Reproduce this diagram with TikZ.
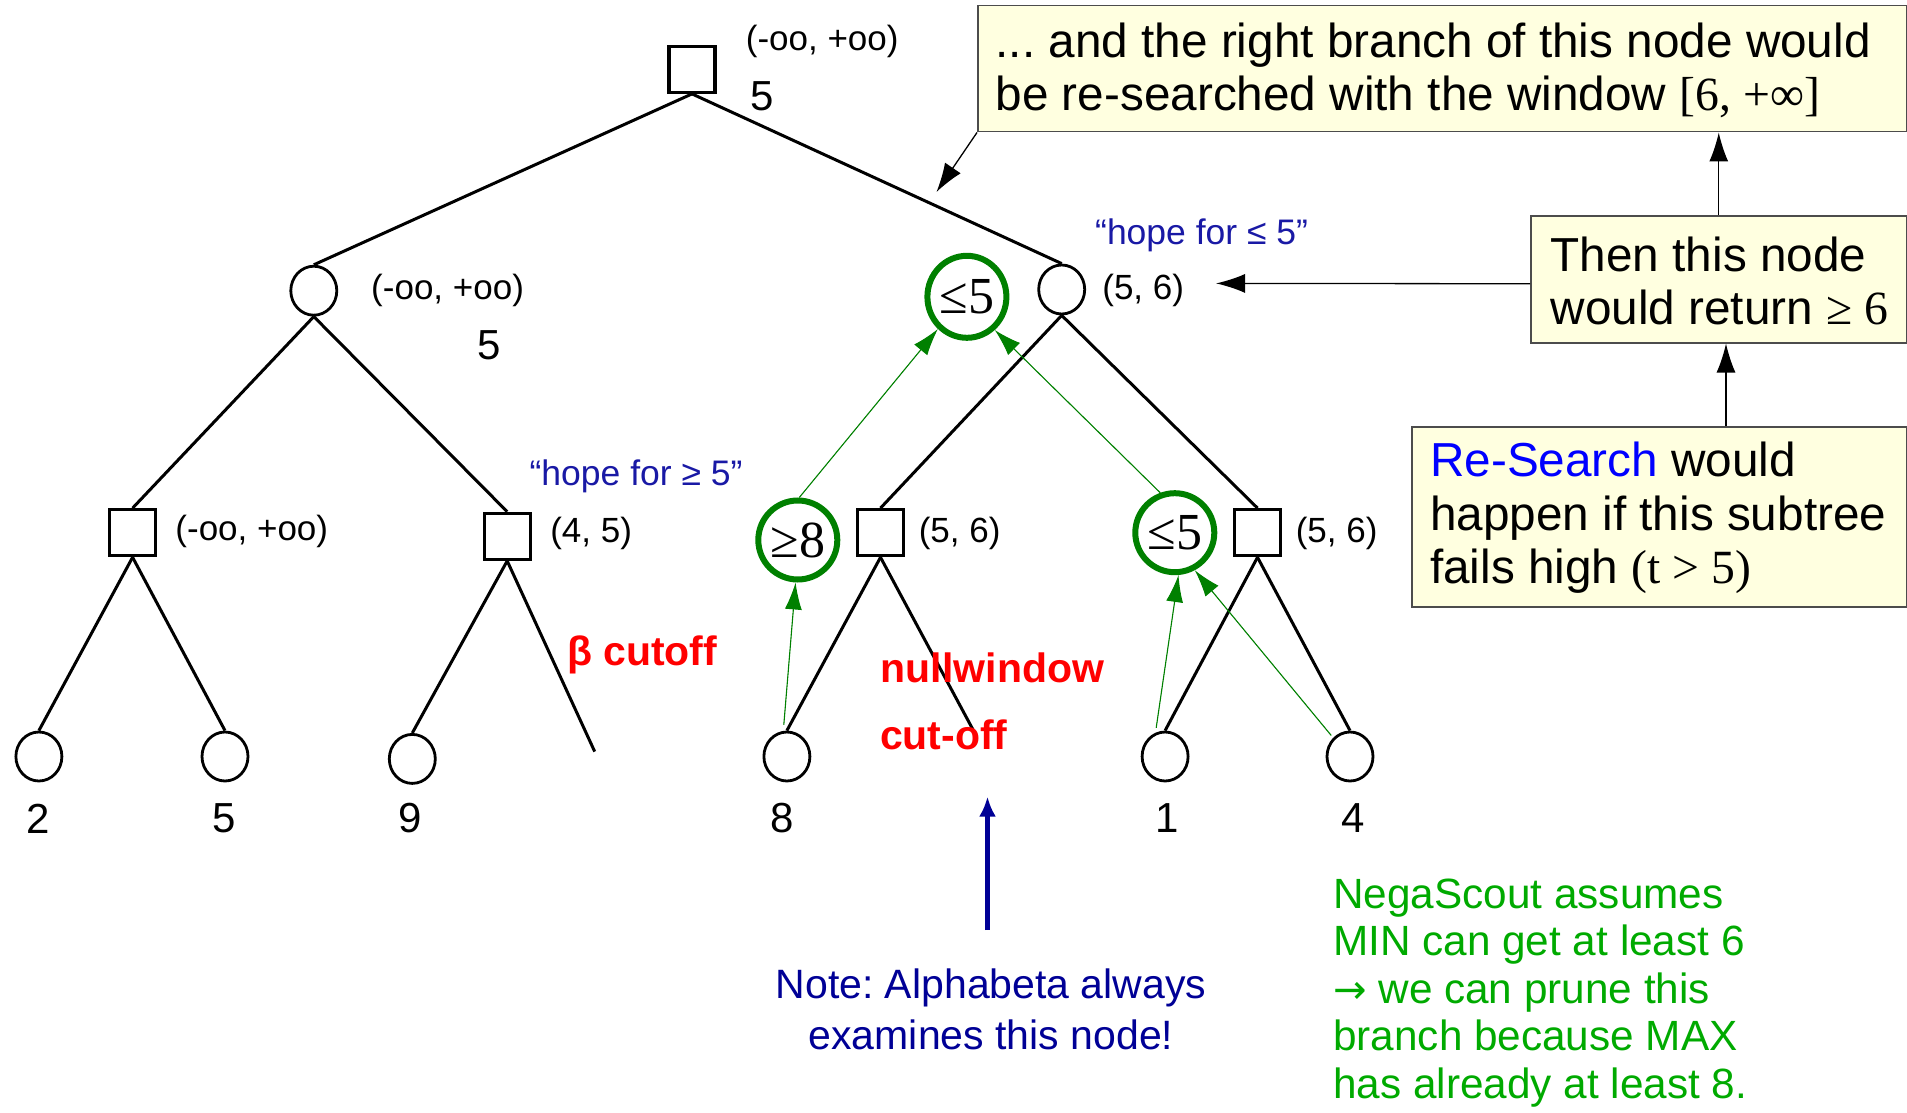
\documentclass[tikz,border=0pt]{standalone}
\usepackage{fontspec}
\setmainfont{Liberation Sans}
\newfontfamily\serifx{Liberation Serif}
\newfontfamily\djv{DejaVu Sans}
\usetikzlibrary{arrows.meta,shapes.geometric}
\definecolor{boxfill}{RGB}{255,255,224}
\definecolor{gcirc}{RGB}{0,128,0}
\definecolor{gtext}{RGB}{0,170,0}
\definecolor{navyx}{RGB}{0,0,150}
\definecolor{hopeblue}{RGB}{25,25,165}
\definecolor{redx}{RGB}{255,0,0}
\definecolor{rsblue}{RGB}{0,0,255}
\frenchspacing
\begin{document}
\begin{tikzpicture}[x=1pt,y=-1pt,
  maxn/.style={draw, rectangle, line width=3.2pt, minimum size=46pt, inner sep=0pt},
  minn/.style={draw, ellipse, line width=2.8pt, minimum width=46pt, minimum height=49pt, inner sep=0pt},
  gn/.style={draw=gcirc, ellipse, line width=6pt, minimum width=79pt, minimum height=79pt, inner sep=0pt, font=\serifx\fontsize{52}{52}\selectfont},
  lbl/.style={font=\fontsize{35}{40}\selectfont, inner sep=0pt},
  val/.style={font=\fontsize{42}{48}\selectfont, inner sep=0pt},
  hope/.style={font=\fontsize{35.5}{40}\selectfont, text=hopeblue, inner sep=0pt},
  redlbl/.style={font=\bfseries\fontsize{41}{46}\selectfont, text=redx, inner sep=0pt},
  edgel/.style={line width=3pt},
  garrow/.style={draw=gcirc, line width=1.1pt, -{Latex[length=27pt,width=17pt]}, fill=gcirc},
  barrow/.style={line width=1.3pt, -{Latex[length=29pt,width=19pt]}},
  bluearrow/.style={draw=navyx, line width=4.5pt, -{Latex[length=20pt,width=17pt]}},
  boxst/.style={draw=black!70, line width=1.5pt, fill=boxfill, anchor=north west, inner sep=0pt},
  boxtxt/.style={anchor=west, align=left, inner sep=0pt, font=\fontsize{47.7}{53.5}\selectfont},
  gtxt/.style={anchor=west, align=left, inner sep=0pt, text=gtext, font=\fontsize{42.3}{47.4}\selectfont},
  notetxt/.style={align=center, inner sep=0pt, text=navyx, font=\fontsize{41}{51}\selectfont}
]
\useasboundingbox (0,0) rectangle (1907,1113);

% tree nodes
\node[maxn] (root) at (692,69.3) {};
\node[minn] (L) at (313.8,290.7) {};
\node[minn] (R) at (1061.7,289.5) {};
\node[maxn] (s0) at (132.6,532.7) {};
\node[maxn] (s1) at (507.2,536.3) {};
\node[maxn] (s2) at (880.5,532.7) {};
\node[maxn] (s3) at (1257.5,532.7) {};
\node[minn] (l2) at (38.9,756.5) {};
\node[minn] (l5) at (225.0,756.5) {};
\node[minn] (l9) at (412.3,758.9) {};
\node[minn] (l8) at (786.9,756.5) {};
\node[minn] (l1) at (1165.1,756.5) {};
\node[minn] (l4) at (1350.0,756.5) {};
\coordinate (cut1) at (594.7,751.6);
\coordinate (cut2) at (973,729.7);

% edges
\draw[edgel] (root.south) -- (L.north);
\draw[edgel] (root.south) -- (R.north);
\draw[edgel] (L.south) -- (s0.north);
\draw[edgel] (L.south) -- (s1.north);
\draw[edgel] (R.south) -- (s2.north);
\draw[edgel] (R.south) -- (s3.north);
\draw[edgel] (s0.south) -- (l2.north);
\draw[edgel] (s0.south) -- (l5.north);
\draw[edgel] (s1.south) -- (l9.north);
\draw[edgel] (s1.south) -- (cut1);
\draw[edgel] (s2.south) -- (l8.north);
\draw[edgel] (s2.south) -- (cut2);
\draw[edgel] (s3.south) -- (l1.north);
\draw[edgel] (s3.south) -- (l4.north);

% labels
\node[lbl] (rl) at (822.2,41.5) {(-oo, +oo)};
\node[val] (rv) at (762.6,96.1) {5};
\node[lbl] (Ll) at (447.6,290.5) {(-oo, +oo)};
\node[val] (Lv) at (488.9,345.4) {5};
\node[lbl] (Rl) at (1143.2,290.5) {(5, 6)};
\node[hope] (hR) at (1201.6,235.7) {“hope for ≤ 5”};
\node[lbl] (s0l) at (251.8,531.3) {(-oo, +oo)};
\node[lbl] (s1l) at (591.1,533.7) {(4, 5)};
\node[lbl] (s2l) at (959.6,533.7) {(5, 6)};
\node[lbl] (s3l) at (1336.6,533.7) {(5, 6)};
\node[hope] (hL) at (636.1,476.5) {“hope for ≥ 5”};
\node[val] (v2) at (37.7,818.5) {2};
\node[val] (v5) at (223.8,818.5) {5};
\node[val] (v9) at (409.9,818.5) {9};
\node[val] (v8) at (782.0,818.5) {8};
\node[val] (v1) at (1167.6,818.5) {1};
\node[val] (v4) at (1353.6,818.5) {4};
\node[redlbl] (bc) at (642.2,655.3) {β cutoff};
\node[redlbl] (nw) at (992.4,667.5) {nullwindow};
\node[redlbl] (co) at (943.8,734.4) {cut-off};

% green circles
\node[gn, minimum height=82pt] (gB) at (966.9,296.8) {≤5};
\node[gn] (g8) at (797.8,540.0) {≥8};
\node[gn] (gs) at (1174.8,532.7) {≤5};

% green arrows
\draw[garrow, shorten <=6pt] (l8.98) -- (g8.267);
\draw[garrow] (g8.88) -- (gB.228);
\draw[garrow] (gs.110) -- (gB.310);
\draw[garrow, shorten <=5pt] (l1.112) -- (gs.275);
\draw[garrow, shorten <=3pt] (l4.132) -- (gs.298);

% note arrow
\coordinate (nb) at (987.5,930);
\coordinate (nt) at (987.5,796.6);
\draw[bluearrow] (nb) -- (nt);
\node[notetxt] (note) at (991,1009.5) {Note: Alphabeta always\\examines this node!};

% boxes
\node[boxst, minimum width=929pt, minimum height=126pt] (b1) at (977,5) {};
\node[boxtxt] (t1) at ([xshift=18.5pt,yshift=-1.5pt]b1.west) {... and the right branch of this node would\\be re-searched with the window {\serifx [6, +∞]}};
\node[boxst, minimum width=376pt, minimum height=127pt] (b2) at (1530,215) {};
\node[boxtxt] (t2) at ([xshift=20.5pt,yshift=-1.5pt]b2.west) {Then this node\\would return {\serifx ≥ 6}};
\node[boxst, minimum width=495pt, minimum height=180pt] (b3) at (1411,426) {};
\node[boxtxt] (t3) at ([xshift=19pt,yshift=-1.5pt]b3.west) {\textcolor{rsblue}{Re-Search} would\\happen if this subtree\\fails high {\serifx (t > 5)}};

% black arrows
\coordinate (a1tip) at (936.5,192);
\draw[barrow] (b1.south west) -- (a1tip);
\coordinate (a2tip) at (1216,283.4);
\draw[barrow] ([yshift=-4.5pt]b2.west) -- (a2tip);
\draw[barrow] (b2.north) -- (b2.north |- b1.south);
\coordinate (b3top) at ([xshift=315pt]b3.north west);
\draw[barrow] (b3top) -- (b3top |- b2.south);

% green text
\node[gtxt] (neg) at (1333,993) {NegaScout assumes\\MIN can get at least 6\\{\djv\fontsize{40}{47.4}\selectfont →} we can prune this\\branch because MAX\\has already at least 8.};
\end{tikzpicture}
\end{document}
